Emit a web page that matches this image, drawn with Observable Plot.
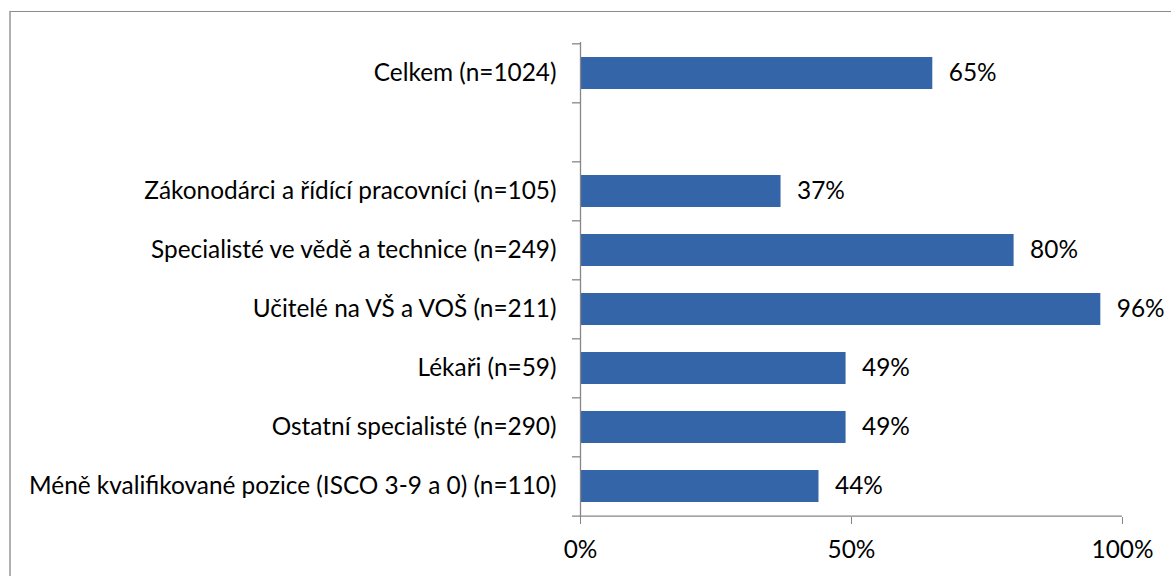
<!DOCTYPE html>
<html>
<head>
<meta charset="utf-8">
<script src="https://cdn.jsdelivr.net/npm/d3@7"></script>
<script src="https://cdn.jsdelivr.net/npm/@observablehq/plot@0.6"></script>
<style>
  html, body { margin: 0; padding: 0; background: #fff; overflow: hidden; }
  #wrap { position: relative; width: 1171px; height: 576px; }
  #border { position: absolute; left: 9px; top: 11px; width: 1300px; height: 700px;
            border-top: 1px solid #8c8c8c; border-left: 2px solid #b0b0b0; }
  #chart { position: absolute; left: 0; top: 0; }
</style>
</head>
<body>
<div id="wrap"><div id="border"></div><div id="chart"></div></div>
<script>
const categories = [
  "Celkem (n=1024)",
  "",
  "Zákonodárci a řídící pracovníci (n=105)",
  "Specialisté ve vědě a technice (n=249)",
  "Učitelé na VŠ a VOŠ (n=211)",
  "Lékaři (n=59)",
  "Ostatní specialisté (n=290)",
  "Méně kvalifikované pozice (ISCO 3-9 a 0) (n=110)"
];
const values = [0.65, null, 0.37, 0.80, 0.96, 0.49, 0.49, 0.44];
const xTicks = [0, 0.5, 1];

const data = categories.map((c, i) => ({cat: c, v: values[i]})).filter(d => d.v != null);

const W = 1171, H = 576;
const mL = 580, mR = 49, mT = 42, mB = 59;
const step = (H - mT - mB) / categories.length;
const tickLen = 8 / (W - mL - mR);
const font = "Lato, 'Open Sans', sans-serif";
const fs = 24.4;

const chart = Plot.plot({
  width: W, height: H,
  marginLeft: mL, marginRight: mR, marginTop: mT, marginBottom: mB,
  style: {fontFamily: font, fontSize: fs + "px", color: "#000", background: "transparent"},
  x: {domain: [0, 1]},
  y: {domain: categories, paddingInner: 0.46, paddingOuter: 0.23},
  marks: [
    Plot.barX(data, {x: "v", y: "cat", fill: "#3465a8"}),
    Plot.text(data, {x: "v", y: "cat", text: d => Math.round(d.v * 100) + "%",
      textAnchor: "start", dx: 16, fontSize: fs, fill: "#000"}),
    Plot.ruleX([0], {stroke: "#868686", strokeWidth: 1.3}),
    Plot.ruleY(categories, {y: d => d, x1: -tickLen, x2: 0, dy: -step / 2, stroke: "#868686", strokeWidth: 1.3, clip: false}),
    Plot.ruleY([categories[categories.length - 1]], {y: d => d, x1: -tickLen, x2: 1, dy: step / 2, stroke: "#868686", strokeWidth: 1.3}),
    Plot.axisY({tickSize: 0, tickPadding: 24, fontSize: fs, label: null, tickFormat: d => d}),
    Plot.axisX({ticks: xTicks, tickFormat: d => Math.round(d * 100) + "%", tickSize: 7,
      tickPadding: 16, fontSize: fs, label: null, stroke: "#868686"})
  ]
});
document.getElementById("chart").appendChild(chart);
</script>
</body>
</html>
